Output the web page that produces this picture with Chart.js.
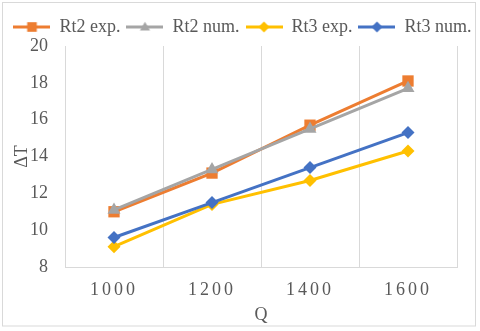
<!DOCTYPE html>
<html><head><meta charset="utf-8">
<script src="https://cdn.jsdelivr.net/npm/chart.js@4"></script>
<style>html,body{margin:0;padding:0;background:#fff}</style>
</head>
<body>
<canvas id="c" width="480" height="331"></canvas>
<script>
const categories = ['1000', '1200', '1400', '1600'];
const rt2Exp = [11.0, 13.1, 15.7, 18.1];
const rt2Num = [11.1, 13.3, 15.5, 17.7];
const rt3Exp = [9.1, 11.4, 12.7, 14.3];
const rt3Num = [9.6, 11.5, 13.4, 15.3];
const seriesNames = ['Rt2 exp.', 'Rt2 num.', 'Rt3 exp.', 'Rt3 num.'];
const yMin = 8, yMax = 20, yStep = 2;
const xTitle = 'Q';
const yTitle = '\u0394T';

const colors = ['#ED7D31', '#A5A5A5', '#FFC000', '#4472C4'];
const styles = ['rect', 'triangle', 'rectRot', 'rectRot'];
const radii = [8, 7.5, 6.5, 6.5];
const FONT = "'Liberation Serif', 'Times New Roman', serif";
const TXT = '#595959';

function marker(ctx, style, x, y, s, color) {
  ctx.fillStyle = color;
  ctx.beginPath();
  if (style === 'rect') {
    ctx.rect(x - s, y - s, 2 * s, 2 * s);
  } else if (style === 'triangle') {
    ctx.moveTo(x, y - s * 1.1);
    ctx.lineTo(x + s * 1.05, y + s * 0.75);
    ctx.lineTo(x - s * 1.05, y + s * 0.75);
    ctx.closePath();
  } else {
    ctx.moveTo(x, y - s * 1.15);
    ctx.lineTo(x + s * 1.15, y);
    ctx.lineTo(x, y + s * 1.15);
    ctx.lineTo(x - s * 1.15, y);
    ctx.closePath();
  }
  ctx.fill();
}
function legendIcon(i) {
  const c = document.createElement('canvas');
  c.width = 37; c.height = 16;
  const g = c.getContext('2d');
  g.strokeStyle = colors[i]; g.lineWidth = 3;
  g.beginPath(); g.moveTo(0, 8); g.lineTo(37, 8); g.stroke();
  marker(g, styles[i], 18.5, 8, 4.8, colors[i]);
  return c;
}
const icons = [0, 1, 2, 3].map(legendIcon);

const seriesData = [rt2Exp, rt2Num, rt3Exp, rt3Num];
const datasets = seriesData.map((d, i) => ({
  label: seriesNames[i],
  data: d,
  borderColor: colors[i],
  backgroundColor: colors[i],
  borderWidth: 3,
  pointStyle: styles[i],
  pointRadius: radii[i],
  pointHoverRadius: radii[i],
  pointBorderWidth: 0,
  tension: 0,
  order: 4 - i
}));

const framePlugin = {
  id: 'frame',
  beforeDraw(chart) {
    const ctx = chart.ctx;
    ctx.save();
    ctx.fillStyle = '#fff';
    ctx.fillRect(0, 0, chart.width, chart.height);
    ctx.strokeStyle = '#D9D9D9';
    ctx.lineWidth = 1;
    ctx.strokeRect(2.5, 2.5, 473, 323.5);
    ctx.restore();
    const s = chart.scales.x;
    if (s && !s._spaced) {
      const orig = s.drawLabels.bind(s);
      s.drawLabels = function (ca) {
        const c = this.ctx;
        c.save();
        c.letterSpacing = '3px';
        orig(ca);
        c.restore();
      };
      s._spaced = true;
    }
  }
};

new Chart(document.getElementById('c'), {
  type: 'line',
  data: { labels: categories, datasets },
  options: {
    responsive: false,
    animation: false,
    layout: { padding: { left: 5, right: 0, top: 12, bottom: 3 } },
    plugins: {
      tooltip: { enabled: false },
      legend: {
        position: 'top',
        labels: {
          usePointStyle: true,
          pointStyleWidth: 37,
          padding: 6,
          color: TXT,
          font: { family: FONT, size: 18 },
          generateLabels: () => seriesNames.map((n, i) => ({
            text: n, pointStyle: icons[i], fillStyle: colors[i], strokeStyle: colors[i],
            lineWidth: 0, hidden: false, datasetIndex: i, fontColor: TXT
          }))
        }
      }
    },
    scales: {
      x: {
        type: 'category',
        offset: true,
        grid: { display: true, offset: true, color: '#D9D9D9', lineWidth: 1, drawTicks: false },
        border: { display: true, color: '#D9D9D9', width: 1 },
        ticks: { color: TXT, font: { family: FONT, size: 18 }, padding: 12, maxRotation: 0 },
        title: { display: true, text: xTitle, color: TXT, font: { family: FONT, size: 18 }, padding: { top: 2, bottom: 2 } },
        afterFit: (s) => { s.height = 61; }
      },
      y: {
        min: yMin, max: yMax,
        grid: { display: false, drawTicks: false },
        border: { display: false },
        ticks: { stepSize: yStep, color: TXT, font: { family: FONT, size: 18 }, padding: 17 },
        title: { display: true, text: yTitle, color: TXT, font: { family: FONT, size: 18 }, padding: { top: 6, bottom: 2 } },
        afterFit: (s) => { s.width = 60; }
      },
      yRight: {
        position: 'right',
        display: true,
        grid: { display: false, drawTicks: false },
        border: { display: false },
        ticks: { display: false },
        afterFit: (s) => { s.width = 23; }
      }
    }
  },
  plugins: [framePlugin]
});
</script>
</body></html>
